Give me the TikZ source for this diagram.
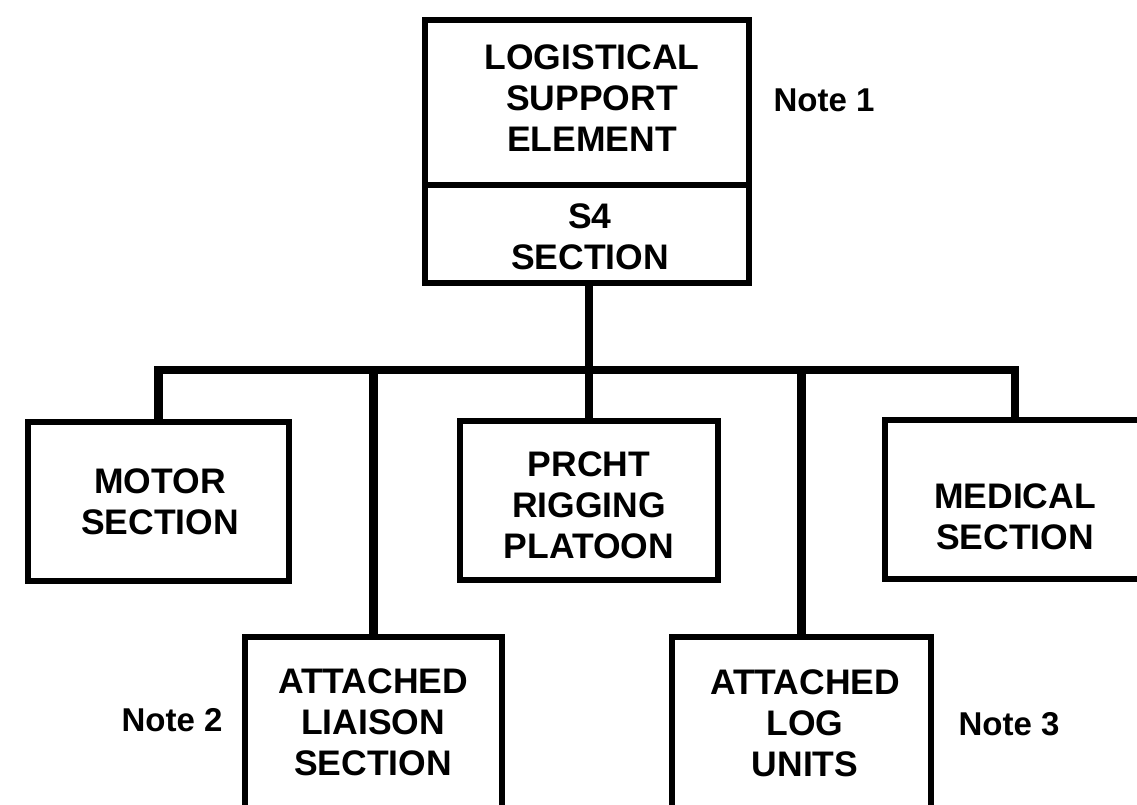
\documentclass[tikz,border=0pt]{standalone}
\usepackage{fontspec}
\setmainfont{Liberation Sans}
\begin{document}
\begin{tikzpicture}[x=1pt,y=-1pt,
  box/.style={draw=black, line width=6pt, fill=none, inner sep=0pt},
  boxline/.style={draw=black, line width=6pt},
  conn/.style={draw=black, line width=8.5pt},
  lbl/.style={align=center, inner sep=0pt, font=\fontsize{35.5}{41}\selectfont\bfseries},
  note/.style={inner sep=0pt, font=\fontsize{33}{38}\selectfont\bfseries}]
\useasboundingbox (0,0) rectangle (1137,805);
% boxes
\node[box, minimum width=324pt, minimum height=263pt] (top) at (587,151.5) {};
\node[box, minimum width=261pt, minimum height=159pt] (motor) at (158.5,501.5) {};
\node[box, minimum width=258pt, minimum height=159pt] (prcht) at (589,500.5) {};
\node[box, minimum width=260pt, minimum height=159pt] (medical) at (1015,499.5) {};
\node[box, minimum width=257pt, minimum height=203pt] (liaison) at (373.5,738.5) {};
\node[box, minimum width=259pt, minimum height=203pt] (log) at (801.5,738.5) {};
% divider in top box
\coordinate (divy) at (0,185);
\draw[boxline] (top.west |- divy) -- (top.east |- divy);
% texts
\node[lbl] (toptext) at (592,98) {LOGISTICAL\\SUPPORT\\ELEMENT};
\node[lbl] (s4text) at (590,237) {S4\\SECTION};
\node[lbl] (motortext) at (160,502) {MOTOR\\SECTION};
\node[lbl] (prchttext) at (589,505) {PRCHT\\RIGGING\\PLATOON};
\node[lbl] (medicaltext) at (1015,517) {MEDICAL\\SECTION};
\node[lbl] (liaisontext) at (373,722) {ATTACHED\\LIAISON\\SECTION};
\node[lbl] (logtext) at (805,723) {ATTACHED\\LOG\\UNITS};
% notes
\node[note] (note1) at (824,100) {Note 1};
\node[note] (note2) at (172,720) {Note 2};
\node[note] (note3) at (1009,724) {Note 3};
% connectors
\coordinate (bus) at (589,370);
\draw[conn] (prcht.north |- top.south) -- (prcht.north);
\draw[conn] (motor.north) |- (bus) -| (medical.north);
\draw[conn] (liaison.north) -- (liaison.north |- bus);
\draw[conn] (log.north) -- (log.north |- bus);
\end{tikzpicture}
\end{document}
